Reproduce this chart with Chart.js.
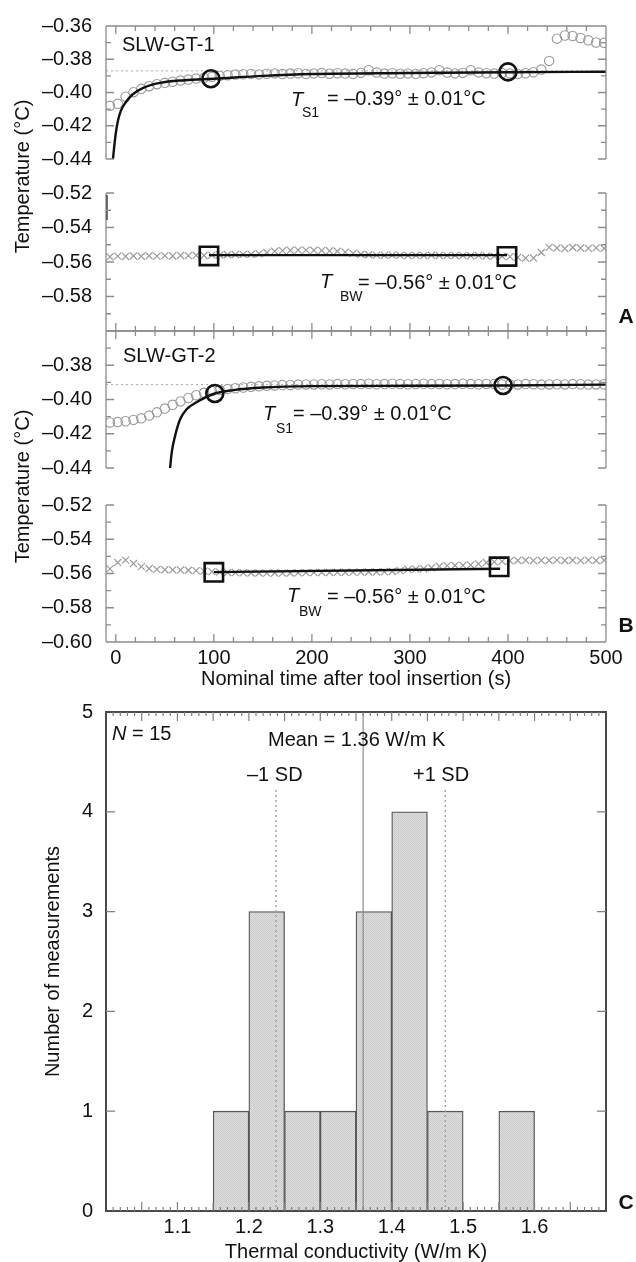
<!DOCTYPE html>
<html><head><meta charset="utf-8">
<script src="https://cdn.jsdelivr.net/npm/chart.js@4/dist/chart.umd.min.js"></script>
<style>
html,body{margin:0;padding:0;background:#fff;overflow:hidden;width:636px;height:1262px;}
canvas{position:absolute;left:0;top:0;}
</style></head><body>
<canvas id="a1" width="636" height="1262"></canvas>
<canvas id="a2" width="636" height="1262"></canvas>
<canvas id="b1" width="636" height="1262"></canvas>
<canvas id="b2" width="636" height="1262"></canvas>
<canvas id="hc" width="636" height="1266"></canvas>
<script>
// ---------------- data ----------------
const timeS = [-6,2,10,18,26,34,42,50,58,66,74,82,90,98,106,114,122,130,138,146,
  154,162,170,178,186,194,202,210,218,226,234,242,250,258,266,274,282,290,298,306,
  314,322,330,338,346,354,362,370,378,386,394,402,410,418,426,434,442,450,458,466,
  474,482,490,498];

// SLW-GT-1 sensor (upper) and bottom water (lower)
const gt1Upper = [-0.4080,-0.4068,-0.4025,-0.3998,-0.3978,-0.3962,-0.3950,-0.3942,-0.3935,-0.3928,
 -0.3922,-0.3916,-0.3911,-0.3906,-0.3900,-0.3896,-0.3892,-0.3890,-0.3888,-0.3891,
 -0.3887,-0.3885,-0.3889,-0.3886,-0.3884,-0.3888,-0.3885,-0.3883,-0.3887,-0.3884,
 -0.3886,-0.3888,-0.3882,-0.3866,-0.3880,-0.3886,-0.3884,-0.3887,-0.3885,-0.3888,
 -0.3884,-0.3879,-0.3866,-0.3880,-0.3885,-0.3882,-0.3866,-0.3879,-0.3884,-0.3886,
 -0.3883,-0.3885,-0.3888,-0.3884,-0.3878,-0.3862,-0.3810,-0.3676,-0.3657,-0.3660,
 -0.3672,-0.3686,-0.3699,-0.3701];
const gt1Lower = [-0.5570,-0.5566,-0.5568,-0.5565,-0.5567,-0.5564,-0.5566,-0.5563,-0.5565,-0.5562,
 -0.5563,-0.5561,-0.5562,-0.5560,-0.5559,-0.5558,-0.5557,-0.5556,-0.5555,-0.5552,
 -0.5545,-0.5538,-0.5534,-0.5532,-0.5531,-0.5531,-0.5532,-0.5533,-0.5535,-0.5538,
 -0.5543,-0.5550,-0.5555,-0.5558,-0.5560,-0.5561,-0.5560,-0.5561,-0.5562,-0.5561,
 -0.5562,-0.5561,-0.5562,-0.5563,-0.5562,-0.5563,-0.5564,-0.5563,-0.5565,-0.5566,
 -0.5567,-0.5569,-0.5573,-0.5578,-0.5577,-0.5545,-0.5515,-0.5519,-0.5522,-0.5516,
 -0.5519,-0.5521,-0.5518,-0.5521];
// SLW-GT-2
const gt2Upper = [-0.4134,-0.4132,-0.4127,-0.4119,-0.4110,-0.4094,-0.4075,-0.4053,-0.4031,-0.4011,
 -0.3991,-0.3975,-0.3961,-0.3951,-0.3945,-0.3939,-0.3934,-0.3930,-0.3926,-0.3923,
 -0.3920,-0.3918,-0.3916,-0.3915,-0.3913,-0.3912,-0.3912,-0.3911,-0.3912,-0.3910,
 -0.3911,-0.3909,-0.3910,-0.3908,-0.3911,-0.3910,-0.3908,-0.3909,-0.3911,-0.3909,
 -0.3908,-0.3910,-0.3909,-0.3911,-0.3910,-0.3908,-0.3910,-0.3911,-0.3909,-0.3910,
 -0.3912,-0.3911,-0.3912,-0.3910,-0.3911,-0.3913,-0.3912,-0.3911,-0.3912,-0.3910,
 -0.3911,-0.3913,-0.3912,-0.3911];
const gt2Lower = [-0.5573,-0.5536,-0.5522,-0.5542,-0.5560,-0.5571,-0.5576,-0.5578,-0.5579,-0.5580,
 -0.5581,-0.5583,-0.5586,-0.5589,-0.5592,-0.5594,-0.5595,-0.5596,-0.5597,-0.5597,
 -0.5598,-0.5597,-0.5598,-0.5597,-0.5596,-0.5595,-0.5595,-0.5594,-0.5594,-0.5593,
 -0.5593,-0.5592,-0.5592,-0.5591,-0.5591,-0.5590,-0.5588,-0.5583,-0.5577,-0.5574,
 -0.5572,-0.5566,-0.5558,-0.5554,-0.5553,-0.5552,-0.5550,-0.5544,-0.5536,-0.5532,
 -0.5529,-0.5526,-0.5524,-0.5523,-0.5525,-0.5523,-0.5524,-0.5522,-0.5524,-0.5523,
 -0.5525,-0.5522,-0.5524,-0.5523];

// fitted curves
const fitA1T = [-3,-1.5,0,2,5,10,17,28,45,70,100,150,200,300,400,500];
const fitA1Y = [-0.4405,-0.4320,-0.4245,-0.4175,-0.4112,-0.4060,-0.4012,-0.3972,-0.3942,-0.3926,-0.3917,-0.3900,-0.3889,-0.3883,-0.3878,-0.3875];
const tailA2T = [-9.6,-9.6];
const tailA2Y = [-0.5212,-0.5357];
const fitA2T = [95,399];
const fitA2Y = [-0.5560,-0.5560];
const fitB1T = [55.3,57,60.4,65.5,72,82.3,101,120,150,200,300,400,500];
const fitB1Y = [-0.4405,-0.4310,-0.4214,-0.4117,-0.4058,-0.4016,-0.3965,-0.3945,-0.3930,-0.3922,-0.3920,-0.3918,-0.3913];
const fitB2T = [100,392];
const fitB2Y = [-0.5592,-0.5572];

// picked points (big markers)
const pickA1T = [97,400], pickA1Y = [-0.3917,-0.3876];
const pickA2T = [95,399], pickA2Y = [-0.5565,-0.5568];
const pickB1T = [101,395], pickB1Y = [-0.3965,-0.3918];
const pickB2T = [100,391], pickB2Y = [-0.5593,-0.5561];

// asymptotes (dotted)
const asymA1 = -0.3870, asymB1 = -0.3913;

// ticks
const timeTicks = [0,100,200,300,400,500];
const upperTicks = [-0.36,-0.38,-0.40,-0.42,-0.44];
const lowerTicks = [-0.52,-0.54,-0.56,-0.58,-0.60];

// histogram
const kBins   = [1.175,1.225,1.275,1.325,1.375,1.425,1.475,1.525,1.575];
const kCounts = [1,3,1,1,3,4,1,0,1];
const kTicks = [1.1,1.2,1.3,1.4,1.5,1.6];
const countTicks = [0,1,2,3,4,5];
const kMean = 1.36;
const kSdMarks = [1.238,1.475];

// ---------------- drawing ----------------
const FONT = "'Liberation Sans', Arial, Helvetica, sans-serif";
Chart.defaults.font.family = FONT;
Chart.defaults.font.size = 20;
Chart.defaults.color = '#111';
const PAGE_H = 1262;
const pts = (xs, ys) => xs.map((x, i) => ({x, y: ys[i]}));
const fmtT = v => '\u2013' + Math.abs(v).toFixed(2);

function txt(ctx, s, x, y, font, align) {
  ctx.font = font; ctx.textAlign = align || 'left'; ctx.textBaseline = 'middle';
  ctx.fillStyle = '#111'; ctx.fillText(s, x, y);
}
function vtxt(ctx, s, x, y) {
  ctx.save(); ctx.translate(x, y); ctx.rotate(-Math.PI / 2);
  txt(ctx, s, 0, 0, '20px ' + FONT, 'center'); ctx.restore();
}
function tLabel(ctx, tx, ty, sub, sx, sy, rest, rx, ry) {
  txt(ctx, 'T', tx, ty, 'italic 20px ' + FONT);
  txt(ctx, sub, sx, sy, '14px ' + FONT);
  txt(ctx, rest, rx, ry, '20px ' + FONT);
}

function tempFrame(opts) {
  return {
    id: 'tframe',
    afterDatasetsDraw(chart) {
      const {ctx, chartArea: a, scales: {x, y}} = chart;
      ctx.save();
      ctx.strokeStyle = '#8c8c8c'; ctx.lineWidth = 1.3;
      ctx.beginPath();
      ctx.moveTo(a.left, a.top); ctx.lineTo(a.left, a.bottom);
      ctx.moveTo(a.right, a.top); ctx.lineTo(a.right, a.bottom);
      if (opts.topEdge) { ctx.moveTo(a.left, a.top); ctx.lineTo(a.right, a.top); }
      if (opts.bottomEdge) { ctx.moveTo(a.left, a.bottom); ctx.lineTo(a.right, a.bottom); }
      for (let k = 0; k <= 8; k++) {
        const py = y.getPixelForValue(y.min + k * 0.01);
        const len = k % 2 === 0 ? 8 : 5;
        ctx.moveTo(a.left, py); ctx.lineTo(a.left + len, py);
        ctx.moveTo(a.right, py); ctx.lineTo(a.right - len, py);
      }
      for (let t = 0; t <= 500; t += 20) {
        const px = x.getPixelForValue(t);
        const len = t % 100 === 0 ? 8 : 5;
        if (opts.topEdge) { ctx.moveTo(px, a.top); ctx.lineTo(px, a.top + len); }
        if (opts.bottomEdge) { ctx.moveTo(px, a.bottom); ctx.lineTo(px, a.bottom - len); }
      }
      ctx.stroke();
      if (opts.texts) opts.texts(ctx);
      ctx.restore();
    }
  };
}

function circleSet(ys) {
  return {data: pts(timeS, ys), pointStyle: 'circle', pointRadius: 4.7, pointBorderWidth: 1.1,
    pointBorderColor: '#9a9a9a', pointBackgroundColor: 'rgba(0,0,0,0)', showLine: false, order: 3};
}
function crossSet(ys) {
  return {data: pts(timeS, ys), pointStyle: 'crossRot', pointRadius: 5, pointBorderWidth: 1.2,
    pointBorderColor: '#9a9a9a', showLine: false, order: 3};
}
function fitSet(xs, ys) {
  return {data: pts(xs, ys), showLine: true, borderColor: '#111', borderWidth: 2.4,
    pointRadius: 0, cubicInterpolationMode: 'monotone', order: 1};
}
function pickSet(xs, ys, style) {
  return {data: pts(xs, ys), showLine: false, pointStyle: style, pointRadius: style === 'rect' ? 13 : 8.5,
    pointBorderWidth: 2.6, pointBorderColor: '#111', pointBackgroundColor: 'rgba(0,0,0,0)', order: 0};
}
function asymSet(v) {
  return {data: pts([-10, 500], [v, v]), showLine: true, borderColor: '#aaaaaa', borderWidth: 1,
    borderDash: [2, 3], pointRadius: 0, order: 4};
}

function makeTemp(id, cfg) {
  const xScale = {type: 'linear', min: -10, max: 500, display: cfg.showX,
    grid: {display: false, drawTicks: false}, border: {display: false},
    afterBuildTicks: s => { s.ticks = timeTicks.map(v => ({value: v})); },
    ticks: {padding: 4, autoSkip: false, maxRotation: 0, color: '#111', font: {size: 20}, callback: v => String(v)},
    title: {display: true, text: 'Nominal time after tool insertion (s)', padding: 0, color: '#111', font: {size: 20}}};
  if (cfg.showX) xScale.afterFit = s => { s.height = 49; };
  return new Chart(document.getElementById(id), {
    type: 'scatter',
    data: {datasets: cfg.datasets},
    options: {
      responsive: false, animation: false, events: [],
      layout: {padding: {top: cfg.top, bottom: PAGE_H - cfg.bottom - (cfg.showX ? 49 : 0), left: 0, right: 30}},
      plugins: {legend: {display: false}, tooltip: {enabled: false}},
      scales: {
        x: xScale,
        y: {type: 'linear', min: cfg.yMin, max: cfg.yMax,
          grid: {display: false, drawTicks: false}, border: {display: false},
          afterBuildTicks: s => { s.ticks = cfg.yTicks.map(v => ({value: v})); },
          ticks: {padding: 14, autoSkip: false, color: '#111', font: {size: 20},
            callback: v => cfg.hide.includes(v) ? '' : fmtT(v)},
          afterFit: s => { s.width = 106; }}
      }
    },
    plugins: [tempFrame(cfg)]
  });
}

makeTemp('a1', {top: 22, bottom: 159, yMin: -0.44, yMax: -0.36, yTicks: upperTicks, hide: [], showX: false,
  topEdge: true, bottomEdge: false,
  datasets: [pickSet(pickA1T, pickA1Y, 'circle'), fitSet(fitA1T, fitA1Y), circleSet(gt1Upper), asymSet(asymA1)],
  texts: ctx => {
    txt(ctx, 'SLW-GT-1', 122, 45, '20px ' + FONT);
    tLabel(ctx, 291, 100, 'S1', 302, 113, '= \u20130.39\u00b0 \u00b1 0.01\u00b0C', 327, 99);
    vtxt(ctx, 'Temperature (\u00b0C)', 23, 176.5);
  }});
makeTemp('a2', {top: 193, bottom: 331, yMin: -0.60, yMax: -0.52, yTicks: lowerTicks, hide: [-0.60], showX: false,
  topEdge: false, bottomEdge: true,
  datasets: [pickSet(pickA2T, pickA2Y, 'rect'), fitSet(fitA2T, fitA2Y), fitSet(tailA2T, tailA2Y), crossSet(gt1Lower)],
  texts: ctx => {
    tLabel(ctx, 320, 282, 'BW', 340, 297, '= \u20130.56\u00b0 \u00b1 0.01\u00b0C', 358, 283);
    txt(ctx, 'A', 626, 317, 'bold 21px ' + FONT, 'center');
  }});
makeTemp('b1', {top: 331, bottom: 468, yMin: -0.44, yMax: -0.36, yTicks: upperTicks, hide: [-0.36], showX: false,
  topEdge: true, bottomEdge: false,
  datasets: [pickSet(pickB1T, pickB1Y, 'circle'), fitSet(fitB1T, fitB1Y), circleSet(gt2Upper), asymSet(asymB1)],
  texts: ctx => {
    txt(ctx, 'SLW-GT-2', 123, 356, '20px ' + FONT);
    tLabel(ctx, 263, 414, 'S1', 276, 429, '= \u20130.39\u00b0 \u00b1 0.01\u00b0C', 293, 414);
    vtxt(ctx, 'Temperature (\u00b0C)', 23, 486.5);
  }});
makeTemp('b2', {top: 505, bottom: 642, yMin: -0.60, yMax: -0.52, yTicks: lowerTicks, hide: [], showX: true,
  topEdge: false, bottomEdge: true,
  datasets: [pickSet(pickB2T, pickB2Y, 'rect'), fitSet(fitB2T, fitB2Y), crossSet(gt2Lower)],
  texts: ctx => {
    tLabel(ctx, 287, 596, 'BW', 299, 612, '= \u20130.56\u00b0 \u00b1 0.01\u00b0C', 327, 597);
    txt(ctx, 'B', 626, 626, 'bold 21px ' + FONT, 'center');
  }});

// ---- histogram ----
const hcEl = document.getElementById('hc');
const pc = document.createElement('canvas'); pc.width = 2; pc.height = 2;
const pg = pc.getContext('2d');
pg.fillStyle = '#dedede'; pg.fillRect(0, 0, 2, 2);
pg.fillStyle = '#cbcbcb'; pg.fillRect(0, 0, 1, 1); pg.fillRect(1, 1, 1, 1);
const stipple = hcEl.getContext('2d').createPattern(pc, 'repeat');

const histPlugin = {
  id: 'hist',
  afterDatasetsDraw(chart) {
    const {ctx, chartArea: a, scales: {x, y}} = chart;
    ctx.save();
    const mx = x.getPixelForValue(kMean);
    ctx.strokeStyle = '#8a8a8a'; ctx.lineWidth = 1.2;
    ctx.beginPath(); ctx.moveTo(mx, a.top); ctx.lineTo(mx, a.bottom); ctx.stroke();
    ctx.setLineDash([2, 3]); ctx.strokeStyle = '#a0a0a0'; ctx.lineWidth = 1.4;
    kSdMarks.forEach(v => {
      const px = x.getPixelForValue(v);
      ctx.beginPath(); ctx.moveTo(px, 790); ctx.lineTo(px, a.bottom + 2); ctx.stroke();
    });
    ctx.setLineDash([]);
    ctx.strokeStyle = '#4a4a4a'; ctx.lineWidth = 2;
    ctx.strokeRect(a.left, a.top, a.right - a.left, a.bottom - a.top);
    ctx.strokeStyle = '#808080'; ctx.lineWidth = 1.2;
    ctx.beginPath();
    for (let i = 1; i < 70; i++) {
      const px = x.getPixelForValue(1.0 + i * 0.01);
      const len = i % 5 === 0 ? 9 : 4;
      ctx.moveTo(px, a.bottom); ctx.lineTo(px, a.bottom - len);
      ctx.moveTo(px, a.top); ctx.lineTo(px, a.top + len);
    }
    for (let c = 1; c < 5; c++) {
      const py = y.getPixelForValue(c);
      ctx.moveTo(a.left, py); ctx.lineTo(a.left + 9, py);
      ctx.moveTo(a.right, py); ctx.lineTo(a.right - 9, py);
    }
    ctx.stroke();
    txt(ctx, 'N', 112, 734, 'italic 20px ' + FONT);
    ctx.font = 'italic 20px ' + FONT;
    const nw = ctx.measureText('N').width;
    txt(ctx, ' = 15', 112 + nw, 734, '20px ' + FONT);
    txt(ctx, 'Mean = 1.36 W/m K', 268, 740, '20px ' + FONT);
    txt(ctx, '\u20131 SD', 247, 775, '20px ' + FONT);
    txt(ctx, '+1 SD', 413, 775, '20px ' + FONT);
    txt(ctx, 'C', 626, 1203, 'bold 21px ' + FONT, 'center');
    ctx.restore();
  }
};

new Chart(hcEl, {
  type: 'bar',
  data: {datasets: [{data: pts(kBins, kCounts), backgroundColor: stipple, borderColor: '#555',
    borderWidth: 1.3, barPercentage: 1, categoryPercentage: 1, grouped: false}]},
  options: {
    responsive: false, animation: false, events: [],
    layout: {padding: {top: 712, bottom: 0, left: 41, right: 30}},
    plugins: {legend: {display: false}, tooltip: {enabled: false}},
    scales: {
      x: {type: 'linear', min: 1.0, max: 1.7, offset: false,
        grid: {display: false, drawTicks: false}, border: {display: false},
        afterBuildTicks: s => { s.ticks = kTicks.map(v => ({value: v})); },
        ticks: {padding: 4, autoSkip: false, maxRotation: 0, color: '#111', font: {size: 20}, callback: v => v.toFixed(1)},
        title: {display: true, text: 'Thermal conductivity (W/m K)', padding: {top: 0, bottom: 2}, color: '#111', font: {size: 20}},
        afterFit: s => { s.height = 55; }},
      y: {type: 'linear', min: 0, max: 5,
        grid: {display: false, drawTicks: false}, border: {display: false},
        afterBuildTicks: s => { s.ticks = countTicks.map(v => ({value: v})); },
        ticks: {padding: 13, autoSkip: false, color: '#111', font: {size: 20}, callback: v => String(v)},
        title: {display: true, text: 'Number of measurements', padding: {top: 0, bottom: 0}, color: '#111', font: {size: 20}},
        afterFit: s => { s.width = 65; }}
    }
  },
  plugins: [histPlugin]
});
</script></body></html>
